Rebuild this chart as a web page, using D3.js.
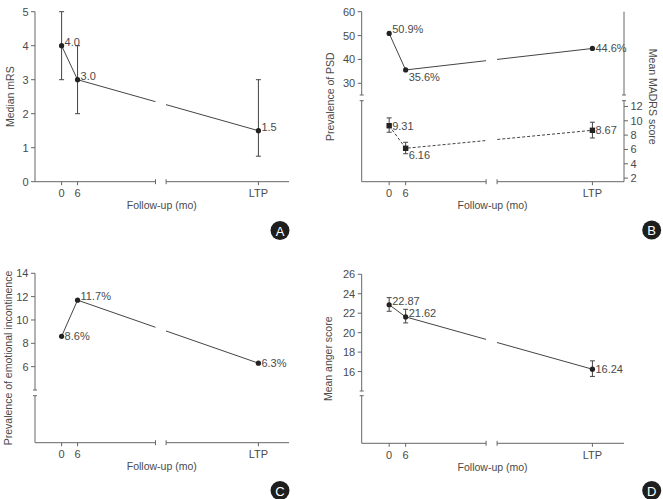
<!DOCTYPE html>
<html><head><meta charset="utf-8">
<script src="https://cdn.jsdelivr.net/npm/d3@7"></script>
<style>
body{margin:0;background:#fff;}
svg{display:block;font-family:"Liberation Sans",Arial,sans-serif;}
</style></head>
<body>
<svg id="c" width="663" height="499"></svg>
<script>
// ---------- data ----------
const timepoints = ["0", "6", "LTP"];
const mrsMedian = [4.0, 3.0, 1.5];
const mrsLow = [3, 2, 0.75];
const mrsHigh = [5, 4, 3];
const mrsLabels = ["4.0", "3.0", "1.5"];

const psdPrev = [50.9, 35.6, 44.6];
const psdLabels = ["50.9%", "35.6%", "44.6%"];
const madrsMean = [9.31, 6.16, 8.67];
const madrsLow = [8.4, 5.4, 7.6];
const madrsHigh = [10.4, 7.0, 9.8];
const madrsLabels = ["9.31", "6.16", "8.67"];

const eiPrev = [8.6, 11.7, 6.3];
const eiLabels = ["8.6%", "11.7%", "6.3%"];

const angerMean = [22.87, 21.62, 16.24];
const angerLow = [22.2, 21.0, 15.5];
const angerHigh = [23.6, 22.4, 17.1];
const angerLabels = ["22.87", "21.62", "16.24"];

const ticksA = [0, 1, 2, 3, 4, 5];
const ticksPSD = [30, 40, 50, 60];
const ticksMADRS = [2, 4, 6, 8, 10, 12];
const ticksEI = [6, 8, 10, 12, 14];
const ticksAnger = [16, 18, 20, 22, 24, 26];

// ---------- layout ----------
const xVirtual = {"0": 0, "6": 6, "LTP": 74};
const xDomain = [-10, 85.5];
const xBreak = [35.3, 39.3];
const axisCol = "#666", lineCol = "#444", textCol = "#4a4a4a";
const svg = d3.select("#c");

function makeX(x0, x1) { return d3.scaleLinear().domain(xDomain).range([x0, x1]); }

function xAxis(g, x, yPix, idSuffix) {
  const a = g.append("g").attr("stroke", axisCol).attr("fill", "none");
  a.append("line").attr("x1", x(xDomain[0])).attr("x2", x(xBreak[0])).attr("y1", yPix).attr("y2", yPix);
  a.append("line").attr("x1", x(xBreak[1])).attr("x2", x(xDomain[1])).attr("y1", yPix).attr("y2", yPix);
  [xBreak[0], xBreak[1]].forEach(v => a.append("line").attr("x1", x(v)).attr("x2", x(v)).attr("y1", yPix - 2.5).attr("y2", yPix + 2.5));
  timepoints.forEach(t => {
    a.append("line").attr("x1", x(xVirtual[t])).attr("x2", x(xVirtual[t])).attr("y1", yPix).attr("y2", yPix + 3.5);
    g.append("text").attr("x", x(xVirtual[t])).attr("y", yPix + 15.5).attr("text-anchor", "middle")
      .attr("font-size", 11).attr("fill", textCol).text(t);
  });
  g.append("text").attr("x", (x(xBreak[0]) + x(xBreak[1])) / 2 + 1).attr("y", yPix + 27.5).attr("text-anchor", "middle")
    .attr("font-size", 10.5).attr("fill", textCol).text("Follow-up (mo)");
}

function ySegment(g, xPix, y, ticks, side, capTop, capBottom) {
  const a = g.append("g").attr("stroke", axisCol).attr("fill", "none");
  const r = y.range();
  a.append("line").attr("x1", xPix).attr("x2", xPix).attr("y1", r[0]).attr("y2", r[1]);
  if (capTop) a.append("line").attr("x1", xPix - 2).attr("x2", xPix + 2).attr("y1", r[1]).attr("y2", r[1]);
  if (capBottom) a.append("line").attr("x1", xPix - 2).attr("x2", xPix + 2).attr("y1", r[0]).attr("y2", r[0]);
  const dir = side === "left" ? -1 : 1;
  ticks.forEach(t => {
    a.append("line").attr("x1", xPix).attr("x2", xPix + dir * 4).attr("y1", y(t)).attr("y2", y(t));
    g.append("text").attr("x", xPix + dir * 6.5).attr("y", y(t) + 4)
      .attr("text-anchor", side === "left" ? "end" : "start")
      .attr("font-size", 11).attr("fill", textCol).text(t);
  });
}

function yTitle(g, xPix, yc, text, rot) {
  g.append("text").attr("transform", `translate(${xPix},${yc}) rotate(${rot})`)
    .attr("text-anchor", "middle").attr("dominant-baseline", "central")
    .attr("font-size", 10.5).attr("fill", textCol).text(text);
}

let clipN = 0;
function series(g, x, y, vals, opts) {
  const pts = timepoints.map((t, i) => [x(xVirtual[t]), y(vals[i])]);
  const line = d3.line();
  const id1 = "clipL" + (clipN), id2 = "clipR" + (clipN++);
  const defs = svg.append("defs");
  defs.append("clipPath").attr("id", id1).append("rect").attr("x", 0).attr("y", 0).attr("width", x(xBreak[0])).attr("height", 499);
  defs.append("clipPath").attr("id", id2).append("rect").attr("x", x(xBreak[1])).attr("y", 0).attr("width", 663).attr("height", 499);
  [id1, id2].forEach(id => {
    g.append("path").attr("d", line(pts)).attr("fill", "none").attr("stroke", lineCol)
      .attr("stroke-width", 1).attr("stroke-dasharray", opts.dash || null)
      .attr("clip-path", `url(#${id})`);
  });
  if (opts.low) {
    timepoints.forEach((t, i) => {
      const xp = x(xVirtual[t]);
      const eb = g.append("g").attr("stroke", lineCol).attr("stroke-width", 1);
      eb.append("line").attr("x1", xp).attr("x2", xp).attr("y1", y(opts.low[i])).attr("y2", y(opts.high[i]));
      eb.append("line").attr("x1", xp - 2.5).attr("x2", xp + 2.5).attr("y1", y(opts.low[i])).attr("y2", y(opts.low[i]));
      eb.append("line").attr("x1", xp - 2.5).attr("x2", xp + 2.5).attr("y1", y(opts.high[i])).attr("y2", y(opts.high[i]));
    });
  }
  pts.forEach(p => {
    if (opts.square) g.append("rect").attr("x", p[0] - 2.7).attr("y", p[1] - 2.7).attr("width", 5.4).attr("height", 5.4).attr("fill", "#222");
    else g.append("circle").attr("cx", p[0]).attr("cy", p[1]).attr("r", 2.6).attr("fill", "#222");
  });
  pts.forEach((p, i) => {
    const pos = opts.pos[i];
    const dy = pos === "ur" ? 0 : pos === "dr" ? 11 : 4;
    g.append("text").attr("x", p[0] + 3).attr("y", p[1] + dy)
      .attr("font-size", 11).attr("fill", textCol).text(opts.labels[i]);
  });
}

function badge(cx, cy, letter) {
  svg.append("circle").attr("cx", cx).attr("cy", cy).attr("r", 9.5).attr("fill", "#1e1e1e");
  svg.append("text").attr("x", cx).attr("y", cy + 0.5).attr("text-anchor", "middle").attr("dominant-baseline", "central")
    .attr("font-size", 13).attr("fill", "#fff").text(letter);
}

// ---------- Panel A ----------
{
  const g = svg.append("g");
  const x = makeX(35, 289);
  const y = d3.scaleLinear().domain([0, 5]).range([181.7, 11.7]);
  ySegment(g, 35, y, ticksA, "left", false, false);
  xAxis(g, x, 181.7);
  yTitle(g, 10, 96.7, "Median mRS", -90);
  series(g, x, y, mrsMedian, {low: mrsLow, high: mrsHigh, labels: mrsLabels, pos: ["ur", "ur", "ur"]});
  badge(280, 230.5, "A");
}
// ---------- Panel B ----------
{
  const g = svg.append("g");
  const x = makeX(361.7, 624);
  const yTop = d3.scaleLinear().domain([25.1, 60]).range([95, 11.7]);
  const yBot = d3.scaleLinear().domain([1.5, 12.8]).range([181.7, 100.7]);
  ySegment(g, 361.7, yTop, ticksPSD, "left", false, true);
  ySegment(g, 361.7, yBot, [], "left", true, false);
  ySegment(g, 624, yTop, [], "right", false, true);
  ySegment(g, 624, yBot, ticksMADRS, "right", true, false);
  xAxis(g, x, 181.7);
  yTitle(g, 330, 96.7, "Prevalence of PSD", -90);
  yTitle(g, 653, 96.7, "Mean MADRS score", 90);
  series(g, x, yTop, psdPrev, {labels: psdLabels, pos: ["ur", "dr", "r"]});
  series(g, x, yBot, madrsMean, {low: madrsLow, high: madrsHigh, labels: madrsLabels, pos: ["r", "dr", "r"], square: true, dash: "3,2"});
  badge(651.7, 230, "B");
}
// ---------- Panel C ----------
{
  const g = svg.append("g");
  const x = makeX(35, 289);
  const yTop = d3.scaleLinear().domain([4, 14]).range([390, 273.3]);
  const yBot = d3.scaleLinear().domain([0, 1]).range([442.7, 395.7]);
  ySegment(g, 35, yTop, ticksEI, "left", false, true);
  ySegment(g, 35, yBot, [], "left", true, false);
  xAxis(g, x, 442.7);
  yTitle(g, 8, 358, "Prevalence of emotional incontinence", -90);
  series(g, x, yTop, eiPrev, {labels: eiLabels, pos: ["r", "ur", "r"]});
  badge(280, 490.5, "C");
}
// ---------- Panel D ----------
{
  const g = svg.append("g");
  const x = makeX(361.7, 624);
  const yTop = d3.scaleLinear().domain([14, 26]).range([391, 274.3]);
  const yBot = d3.scaleLinear().domain([0, 1]).range([443.3, 395.7]);
  ySegment(g, 361.7, yTop, ticksAnger, "left", false, true);
  ySegment(g, 361.7, yBot, [], "left", true, false);
  xAxis(g, x, 443.3);
  yTitle(g, 328, 358.8, "Mean anger score", -90);
  series(g, x, yTop, angerMean, {low: angerLow, high: angerHigh, labels: angerLabels, pos: ["ur", "ur", "r"]});
  badge(651.7, 490.5, "D");
}
</script>
</body></html>
